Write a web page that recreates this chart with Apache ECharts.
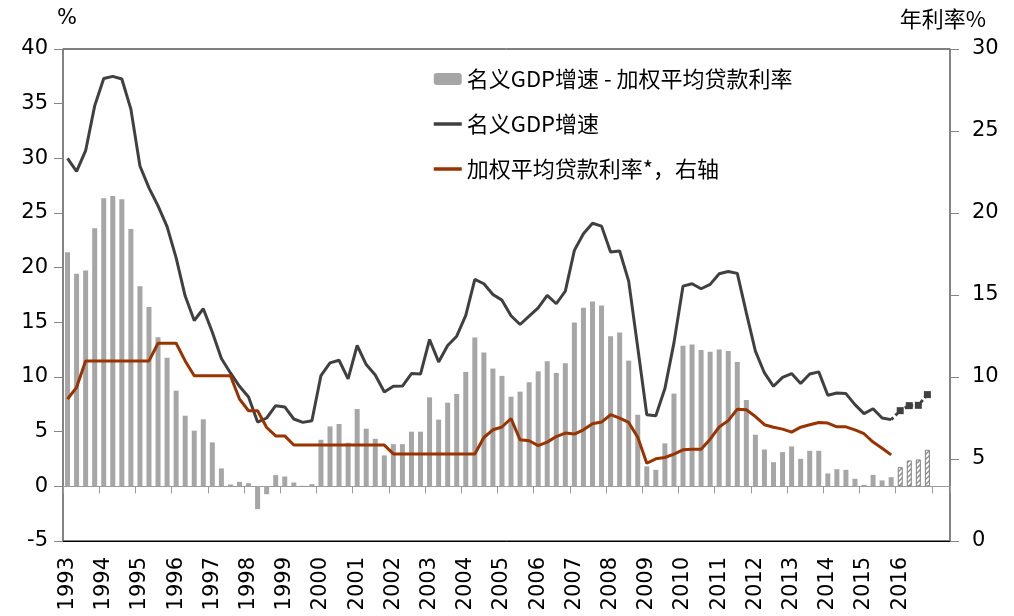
<!DOCTYPE html>
<html><head><meta charset="utf-8">
<script src="https://cdn.jsdelivr.net/npm/echarts@6/dist/echarts.min.js"></script>
<style>html,body{margin:0;padding:0;background:#fff}#c{width:1014px;height:616px}</style>
</head><body><div id="c"></div>
<script>
// ---- data ----
const years = ['1993','1994','1995','1996','1997','1998','1999','2000','2001','2002','2003','2004',
  '2005','2006','2007','2008','2009','2010','2011','2012','2013','2014','2015','2016'];
const extraCategories = ['2017Q1','2017Q2'];
// 名义GDP增速 - 加权平均贷款利率 (quarterly, 1993Q1-2016Q4; 2016 = forecast)
const gapBars = [
  21.4, 19.45, 19.75, 23.6,   26.35, 26.56, 26.26, 23.54,
  18.3, 16.4, 13.64, 11.75,   8.75, 6.46, 5.09, 6.13,
  4.02, 1.64, 0.17, 0.41,     0.29, -2.09, -0.72, 1.03,
  0.9, 0.35, 0.05, 0.2,       4.26, 5.48, 5.7, 3.99,
  7.07, 5.27, 4.35, 2.83,     3.86, 3.86, 5.0, 5.0,
  8.14, 6.1, 7.65, 8.45,      10.47, 13.61, 12.24, 10.77,
  10.1, 8.2, 8.66, 9.52,      10.52, 11.44, 10.37, 11.26,
  14.99, 16.33, 16.91, 16.54, 13.73, 14.07, 11.5, 6.55,
  1.82, 1.51, 3.93, 8.48,     12.85, 12.97, 12.48, 12.3,
  12.51, 12.38, 11.38, 7.9,   4.72, 3.37, 2.21, 3.13,
  3.65, 2.52, 3.25, 3.25,     1.18, 1.57, 1.51, 0.69,
  0.14, 1.05, 0.54, 0.84,     1.76, 2.37, 2.46, 3.35
];
const forecastStart = 92; // 2016Q1
// 名义GDP增速 (1993Q1-2015Q4)
const gdpGrowth = [
  30.0, 28.8, 30.7, 34.8,     37.3, 37.5, 37.26, 34.5,
  29.3, 27.3, 25.65, 23.76,   20.9, 17.4, 15.17, 16.24,
  14.1, 11.69, 10.37, 9.15,   8.17, 5.88, 6.25, 7.38,
  7.26, 6.16, 5.85, 6.0,      10.13, 11.29, 11.53, 9.83,
  12.88, 11.14, 10.19, 8.63,  9.15, 9.17, 10.31, 10.27,
  13.43, 11.38, 12.88, 13.73, 15.63, 18.93, 18.53, 17.55,
  17.03, 15.6, 14.8, 15.56,   16.33, 17.46, 16.7, 17.86,
  21.58, 23.1, 24.06, 23.8,   21.43, 21.52, 18.77, 12.7,
  6.55, 6.46, 8.94, 13.12,    18.31, 18.53, 18.07, 18.47,
  19.44, 19.65, 19.48, 15.87, 12.36, 10.37, 9.15, 9.97,
  10.31, 9.4, 10.28, 10.47,   8.33, 8.54, 8.48, 7.47,
  6.65, 7.1, 6.25, 6.1
];
// 名义GDP增速 forecast 2016Q1-Q4
const gdpForecast = [6.92, 7.38, 7.41, 8.39];
// 加权平均贷款利率 (right axis, 1993Q1-2015Q4)
const loanRate = [
  8.66, 9.37, 10.98, 10.98,   10.98, 10.98, 10.98, 10.98,
  10.98, 10.98, 12.06, 12.06, 12.06, 10.98, 10.08, 10.08,
  10.08, 10.08, 10.08, 8.66,  7.94, 7.94, 6.92, 6.41,
  6.41, 5.85, 5.85, 5.85,     5.85, 5.85, 5.85, 5.85,
  5.85, 5.85, 5.85, 5.85,     5.31, 5.31, 5.31, 5.31,
  5.31, 5.31, 5.31, 5.31,     5.31, 5.31, 6.31, 6.78,
  6.95, 7.47, 6.17, 6.11,     5.82, 6.03, 6.37, 6.58,
  6.52, 6.78, 7.15, 7.25,     7.7, 7.49, 7.23, 6.33,
  4.74, 5.01, 5.09, 5.3,      5.56, 5.6, 5.6, 6.21,
  6.95, 7.34, 8.04, 8.0,      7.59, 7.09, 6.94, 6.82,
  6.64, 6.94, 7.09, 7.23,     7.19, 6.96, 6.96, 6.78,
  6.54, 6.03, 5.66, 5.25
];
const names = ['名义GDP增速 - 加权平均贷款利率', '名义GDP增速', '加权平均贷款利率*，右轴'];

// ---- build ----
const categories = [];
years.forEach(y => ['Q1','Q2','Q3','Q4'].forEach(q => categories.push(y + q)));
extraCategories.forEach(c => categories.push(c));

const hatch = document.createElement('canvas');
hatch.width = 5; hatch.height = 5;
(function(){
  const g = hatch.getContext('2d');
  g.fillStyle = '#fff'; g.fillRect(0,0,5,5);
  g.strokeStyle = '#8c8c8c'; g.lineWidth = 1.3;
  g.beginPath(); g.moveTo(-1,6); g.lineTo(6,-1); g.stroke();
  g.beginPath(); g.moveTo(-1,1); g.lineTo(1,-1); g.stroke();
  g.beginPath(); g.moveTo(4,6); g.lineTo(6,4); g.stroke();
})();

const barData = gapBars.map((v, i) => i >= forecastStart
  ? { value: v, itemStyle: { color: { image: hatch, repeat: 'repeat' }, borderColor: '#808080', borderWidth: 1 } }
  : v);
const fcData = categories.map((c, i) => {
  if (i === forecastStart - 1) return { value: gdpGrowth[i], symbol: 'none' };
  if (i >= forecastStart && i < forecastStart + gdpForecast.length) return gdpForecast[i - forecastStart];
  return null;
});

const axisFont = { fontFamily: 'DejaVu Sans', fontSize: 21, color: '#000' };
const chart = echarts.init(document.getElementById('c'), null, { renderer: 'canvas' });
chart.setOption({
  animation: false,
  backgroundColor: '#fff',
  grid: { left: 63, right: 64, top: 49, bottom: 75, show: true, borderColor: '#000', borderWidth: 1 },
  legend: {
    data: [
      { name: names[0] },
      { name: names[1], itemStyle: { opacity: 0 }, lineStyle: { width: 3.5, color: '#404040' } },
      { name: names[2], itemStyle: { opacity: 0 }, lineStyle: { width: 3.5, color: '#993300' } }
    ],
    orient: 'vertical', left: 427, top: 63, itemWidth: 28, itemHeight: 12, itemGap: 23,
    textStyle: { fontFamily: 'Noto Sans CJK SC', fontSize: 22, color: '#000' }
  },
  graphic: [
    { type: 'text', left: 57, top: 8, style: { text: '%', font: '21px "DejaVu Sans"', fill: '#000' } },
    { type: 'text', right: 28, top: 8, style: { text: '年利率%', font: '22px "Noto Sans CJK SC"', fill: '#000' } }
  ],
  xAxis: [
    {
      type: 'category', data: categories, boundaryGap: true,
      axisLine: { onZero: true, onZeroAxisIndex: 0, lineStyle: { color: '#9a9a9a', width: 1 } },
      axisTick: { show: true, interval: 3, length: 7, lineStyle: { color: '#9a9a9a' } },
      axisLabel: { show: false }, splitLine: { show: false }
    },
    {
      type: 'category', data: categories, boundaryGap: true, position: 'bottom',
      axisLine: { show: true, onZero: false, lineStyle: { color: '#000', width: 1 } },
      axisTick: { show: false },
      axisLabel: {
        ...axisFont, rotate: 90, interval: 3, margin: 16,
        formatter: v => (v.endsWith('Q1') && years.includes(v.slice(0, 4))) ? v.slice(0, 4) : ''
      },
      splitLine: { show: false }
    }
  ],
  yAxis: [
    {
      type: 'value', min: -5, max: 40, interval: 5, position: 'left',
      axisLine: { show: true, lineStyle: { color: '#858585', width: 1.5 } },
      axisTick: { show: true, length: 9, lineStyle: { color: '#858585' } },
      axisLabel: { ...axisFont, margin: 15 }, splitLine: { show: false }
    },
    {
      type: 'value', min: 0, max: 30, interval: 5, position: 'right',
      axisLine: { show: true, lineStyle: { color: '#858585', width: 1.5 } },
      axisTick: { show: true, length: 9, lineStyle: { color: '#858585' } },
      axisLabel: { ...axisFont, margin: 22 }, splitLine: { show: false }
    }
  ],
  series: [
    { name: names[0], type: 'bar', xAxisIndex: 0, yAxisIndex: 0, data: barData, barWidth: 5,
      itemStyle: { color: '#a6a6a6' }, z: 1 },
    { name: names[1], type: 'line', xAxisIndex: 0, yAxisIndex: 0, data: gdpGrowth, symbol: 'none',
      lineStyle: { color: '#404040', width: 3 }, itemStyle: { color: '#404040' }, z: 3 },
    { name: '名义GDP增速（预测）', type: 'line', xAxisIndex: 0, yAxisIndex: 0, data: fcData,
      symbol: 'rect', symbolSize: 7, showSymbol: true, showAllSymbol: true, connectNulls: false,
      lineStyle: { color: '#404040', width: 3, type: 'dotted' }, itemStyle: { color: '#404040' }, z: 3 },
    { name: names[2], type: 'line', xAxisIndex: 0, yAxisIndex: 1, data: loanRate, symbol: 'none',
      lineStyle: { color: '#993300', width: 3 }, itemStyle: { color: '#993300' }, z: 4 }
  ]
});
</script></body></html>
